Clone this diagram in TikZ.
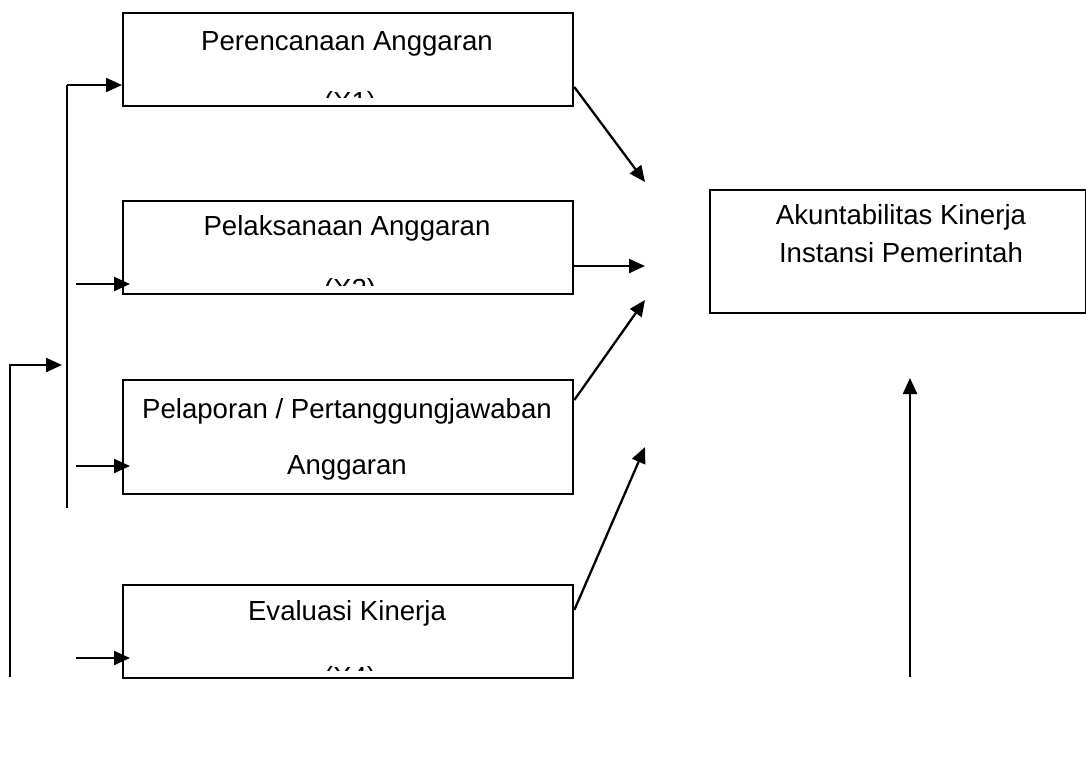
\documentclass[tikz,border=0pt]{standalone}
\usepackage{fontspec}
\setmainfont{Liberation Sans}
\usetikzlibrary{arrows.meta,calc}
\begin{document}
\begin{tikzpicture}[x=1pt,y=-1pt,
  box/.style={draw,line width=2.3pt,minimum width=450pt,inner sep=0pt,anchor=north west},
  lbl/.style={font=\fontsize{27.6}{32}\selectfont,inner sep=0pt,anchor=center},
  arr/.style={line width=2.3pt,-{Triangle[length=16pt,width=14pt]}},
  ln/.style={line width=2.3pt}]
\useasboundingbox (0,0) rectangle (1086,772);
% boxes
\node[box,minimum height=93pt] (b1) at (122,12) {};
\node[box,minimum height=93pt] (b2) at (122,200) {};
\node[box,minimum height=114pt] (b3) at (122,379) {};
\node[box,minimum height=93pt] (b4) at (122,584) {};
\node[box,minimum width=376pt,minimum height=123pt] (b5) at (709,189) {};
% texts
\node[lbl] (t1) at (347,44) {Perencanaan Anggaran};
\node[lbl] (t2) at (347,228) {Pelaksanaan Anggaran};
\node[lbl] (t3) at (347,411) {Pelaporan / Pertanggungjawaban};
\node[lbl] (t3b) at (347,468) {Anggaran};
\node[lbl] (t4) at (347,613) {Evaluasi Kinerja};
\node[lbl] (t5) at (901,217) {Akuntabilitas Kinerja};
\node[lbl] (t5b) at (901,253) {Instansi Pemerintah};
\begin{scope}
  \clip (123,13) rectangle (571,97);
  \node[lbl] (x1) at (350,104) {(X1)};
\end{scope}
\begin{scope}
  \clip (123,201) rectangle (571,285);
  \node[lbl] (x2) at (350,291) {(X2)};
\end{scope}
\begin{scope}
  \clip (123,585) rectangle (571,670);
  \node[lbl] (x4) at (350,679) {(X4)};
\end{scope}
% left feedback lines
\coordinate (v1top) at (67,85);
\coordinate (v1bot) at (67,508);
\coordinate (v2top) at (10,365);
\coordinate (v2bot) at (10,677);
\coordinate (v2end) at (62,365);
\draw[ln] (v1bot) -- (v1top);
\draw[arr] (v1top) -- (b1.west |- v1top);
\draw[arr] (v2bot) -- (v2top) -- (v2end);
\coordinate (s2) at (76,284);
\coordinate (s3) at (76,466);
\coordinate (s4) at (76,658);
\draw[arr] (s2) -- (130,284);
\draw[arr] (s3) -- (130,466);
\draw[arr] (s4) -- (130,658);
% arrows to the right
\coordinate (e1) at (645,182);
\coordinate (e2) at (645,266);
\coordinate (e3) at (645,300);
\coordinate (e4) at (645,447);
\draw[arr] (b1.east |- 0,87) -- (e1);
\draw[arr] (b2.east |- e2) -- (e2);
\draw[arr] (b3.east |- 0,400) -- (e3);
\draw[arr] (b4.east |- 0,610) -- (e4);
% vertical arrow
\coordinate (u1) at (910,677);
\coordinate (u2) at (910,378);
\draw[arr] (u1) -- (u2);
\end{tikzpicture}
\end{document}
